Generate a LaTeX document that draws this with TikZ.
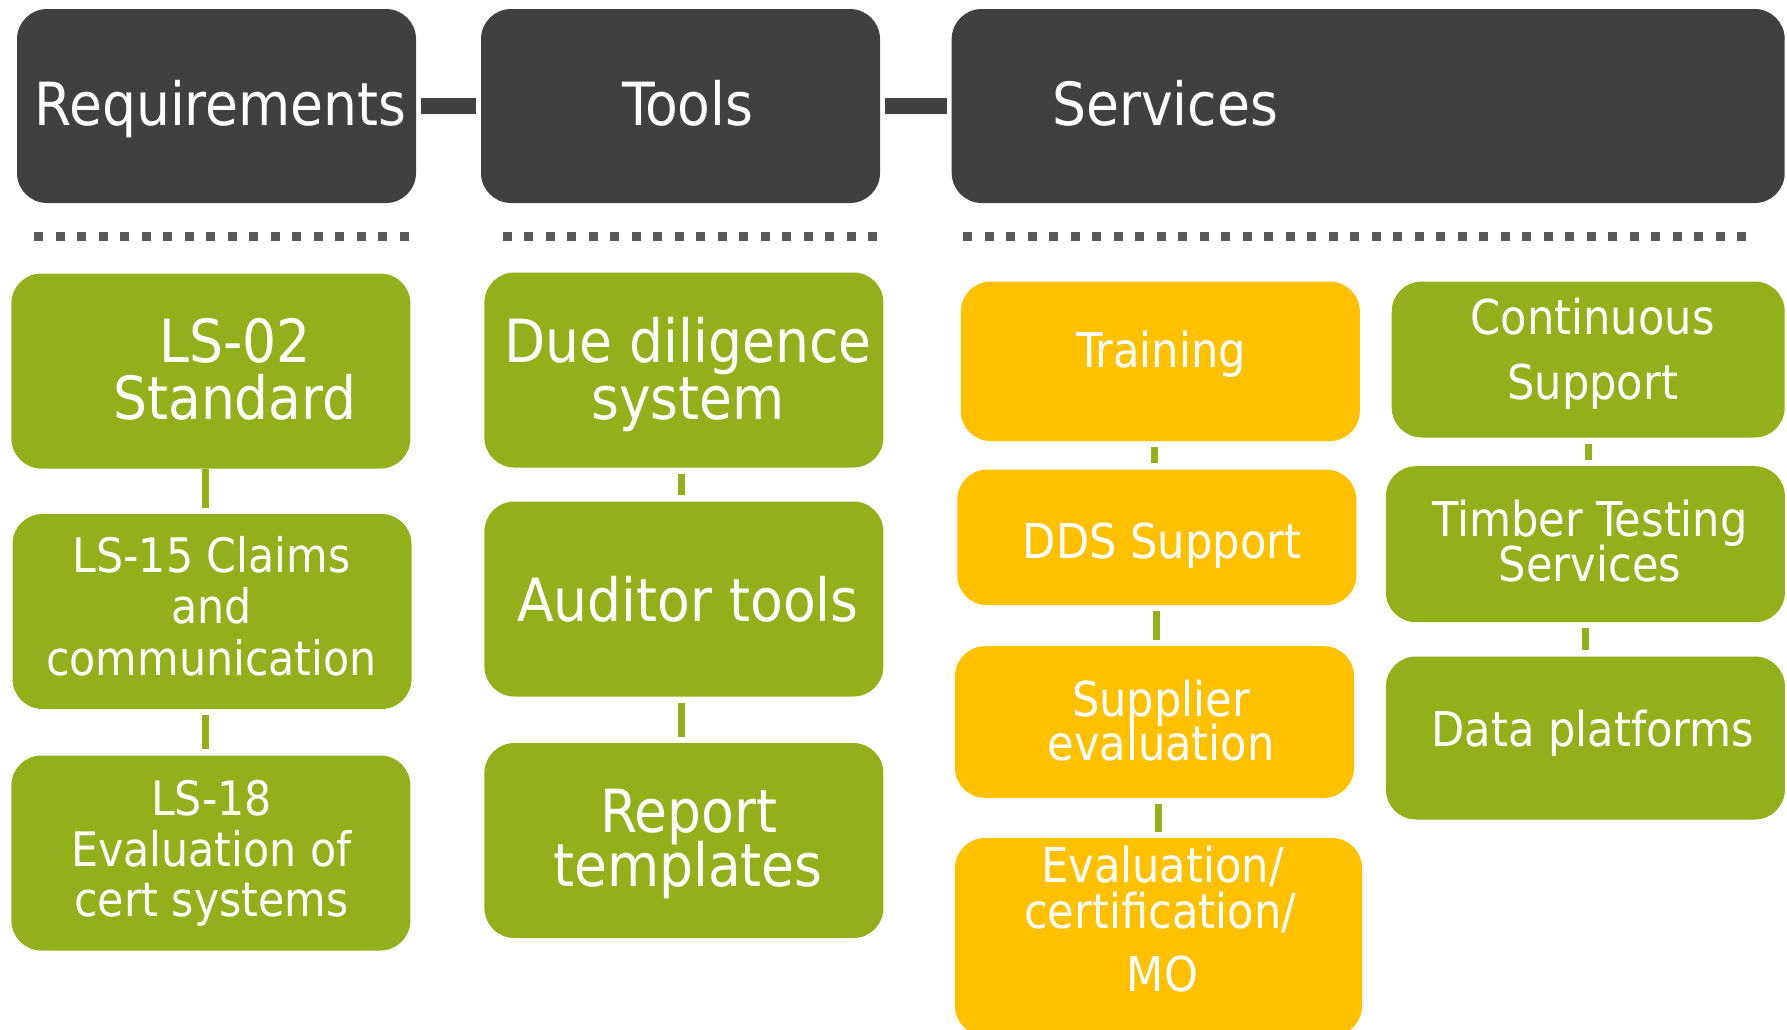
\documentclass[tikz,border=0pt]{standalone}
\usepackage{fontspec}
\setmainfont{DejaVu Sans Condensed}
\definecolor{hdr}{HTML}{404040}
\definecolor{grn}{HTML}{92B01C}
\definecolor{ylw}{HTML}{FFC000}
\definecolor{dotc}{HTML}{595959}
\begin{document}
\begin{tikzpicture}[x=1pt,y=-1pt,
  box/.style={rectangle, rounded corners=30pt, inner sep=0pt, draw=none},
  hbox/.style={box, fill=hdr},
  gbox/.style={box, fill=grn},
  ybox/.style={box, fill=ylw},
  txt/.style={anchor=base, inner sep=0pt, text=white},
  fbig/.style={txt, font=\fontsize{59.5pt}{61pt}\selectfont},
  fmed/.style={txt, font=\fontsize{47.5pt}{49pt}\selectfont},
  fsrv/.style={txt, font=\fontsize{48pt}{50pt}\selectfont},
  hbar/.style={draw=hdr, line width=16pt, shorten <=5pt, shorten >=5pt},
  gconn/.style={draw=grn, line width=7pt, shorten <=6pt, shorten >=6pt},
  dotline/.style={draw=dotc, line width=9pt, dash pattern=on 9pt off 12.5pt}
]
\useasboundingbox (0,0) rectangle (1787,1029);
\clip (0,0) rectangle (1787,1029);

% header boxes
\node[hbox, minimum width=399pt, minimum height=194pt] (req) at (216.5,106) {};
\node[hbox, minimum width=399pt, minimum height=194pt] (tools) at (680.5,106) {};
\node[hbox, minimum width=833pt, minimum height=194pt] (serv) at (1368.2,106) {};
\node[fbig] (treq) at (220.5,125) {Requirements};
\node[fbig] (ttools) at (688,125) {Tools};
\node[fbig] (tserv) at (1165,125) {Services};
\draw[hbar] (req) -- (tools);
\draw[hbar] (tools) -- (serv);

% dotted separators
\draw[dotline] (34,236) -- (409,236);
\draw[dotline] (502.6,236) -- (877,236);
\draw[dotline] (963,236) -- (1757,236);

% column 1
\node[gbox, minimum width=399pt, minimum height=195pt] (ls02) at (210.9,371) {};
\node[gbox, minimum width=399pt, minimum height=195pt] (ls15) at (212,611.5) {};
\node[gbox, minimum width=399pt, minimum height=195pt] (ls18) at (210.9,853) {};
\node[fbig] (ls02a) at (235,362) {LS-02};
\node[fbig] (ls02b) at (235,419) {Standard};
\node[fmed] (ls15a) at (211.5,572.5) {LS-15 Claims};
\node[fmed] (ls15b) at (211.5,623) {and};
\node[fmed] (ls15c) at (211.5,675) {communication};
\node[fmed] (ls18a) at (211.5,815) {LS-18};
\node[fmed] (ls18b) at (211.5,866.5) {Evaluation of};
\node[fmed] (ls18c) at (211.5,916.5) {cert systems};
\draw[gconn, shorten <=0pt] ([xshift=-5pt]ls02.south) -- ([xshift=-5pt]ls02.south |- ls15.north);
\draw[gconn] ([xshift=-7pt]ls15.south) -- ([xshift=-7pt]ls15.south |- ls18.north);

% column 2
\node[gbox, minimum width=399pt, minimum height=195pt] (dd) at (683.9,370) {};
\node[gbox, minimum width=399pt, minimum height=195pt] (at) at (683.9,599) {};
\node[gbox, minimum width=399pt, minimum height=195pt] (rt) at (683.9,840.5) {};
\node[fbig] (dda) at (688,362) {Due diligence};
\node[fbig] (ddb) at (688,419) {system};
\node[fbig] (ata) at (688,621) {Auditor tools};
\node[fbig] (rta) at (689,832) {Report};
\node[fbig] (rtb) at (688,886) {templates};
\draw[gconn] ([xshift=-2pt]dd.south) -- ([xshift=-2pt]dd.south |- at.north);
\draw[gconn] ([xshift=-2pt]at.south) -- ([xshift=-2pt]at.south |- rt.north);

% column 3
\node[ybox, minimum width=399pt, minimum height=159.5pt] (trn) at (1160.3,361.3) {};
\node[ybox, minimum width=399pt, minimum height=135.6pt] (dds) at (1156.8,537.4) {};
\node[ybox, minimum width=399pt, minimum height=151.6pt] (sup) at (1154.5,722) {};
\node[ybox, minimum width=407pt, minimum height=198pt] (evl) at (1158.5,937) {};
\node[fsrv] (trna) at (1161,367) {Training};
\node[fsrv] (ddsa) at (1162,558) {DDS Support};
\node[fsrv] (supa) at (1161,716) {Supplier};
\node[fsrv] (supb) at (1161,760) {evaluation};
\node[fsrv] (evla) at (1162.5,882) {Evaluation/};
\node[fsrv] (evlb) at (1160,928) {certification/};
\node[fsrv] (evlc) at (1162.5,991.5) {MO};
\draw[gconn] ([xshift=-6pt]trn.south) -- ([xshift=-6pt]trn.south |- dds.north);
\draw[gconn] (dds.south) -- (dds.south |- sup.north);
\draw[gconn] ([xshift=3.5pt]sup.south) -- ([xshift=3.5pt]sup.south |- evl.north);

% column 4
\node[gbox, minimum width=393pt, minimum height=156pt] (cs) at (1588.2,359.5) {};
\node[gbox, minimum width=399pt, minimum height=156pt] (tts) at (1585.4,544.2) {};
\node[gbox, minimum width=399pt, minimum height=163pt] (dp) at (1585.4,738) {};
\node[fsrv] (csa) at (1592.7,334) {Continuous};
\node[fsrv] (csb) at (1592.7,399) {Support};
\node[fsrv] (ttsa) at (1590,536) {Timber Testing};
\node[fsrv] (ttsb) at (1590,581) {Services};
\node[fsrv] (dpa) at (1593,746.5) {Data platforms};
\draw[gconn] (cs.south) -- (cs.south |- tts.north);
\draw[gconn] (tts.south) -- (tts.south |- dp.north);
\end{tikzpicture}
\end{document}
